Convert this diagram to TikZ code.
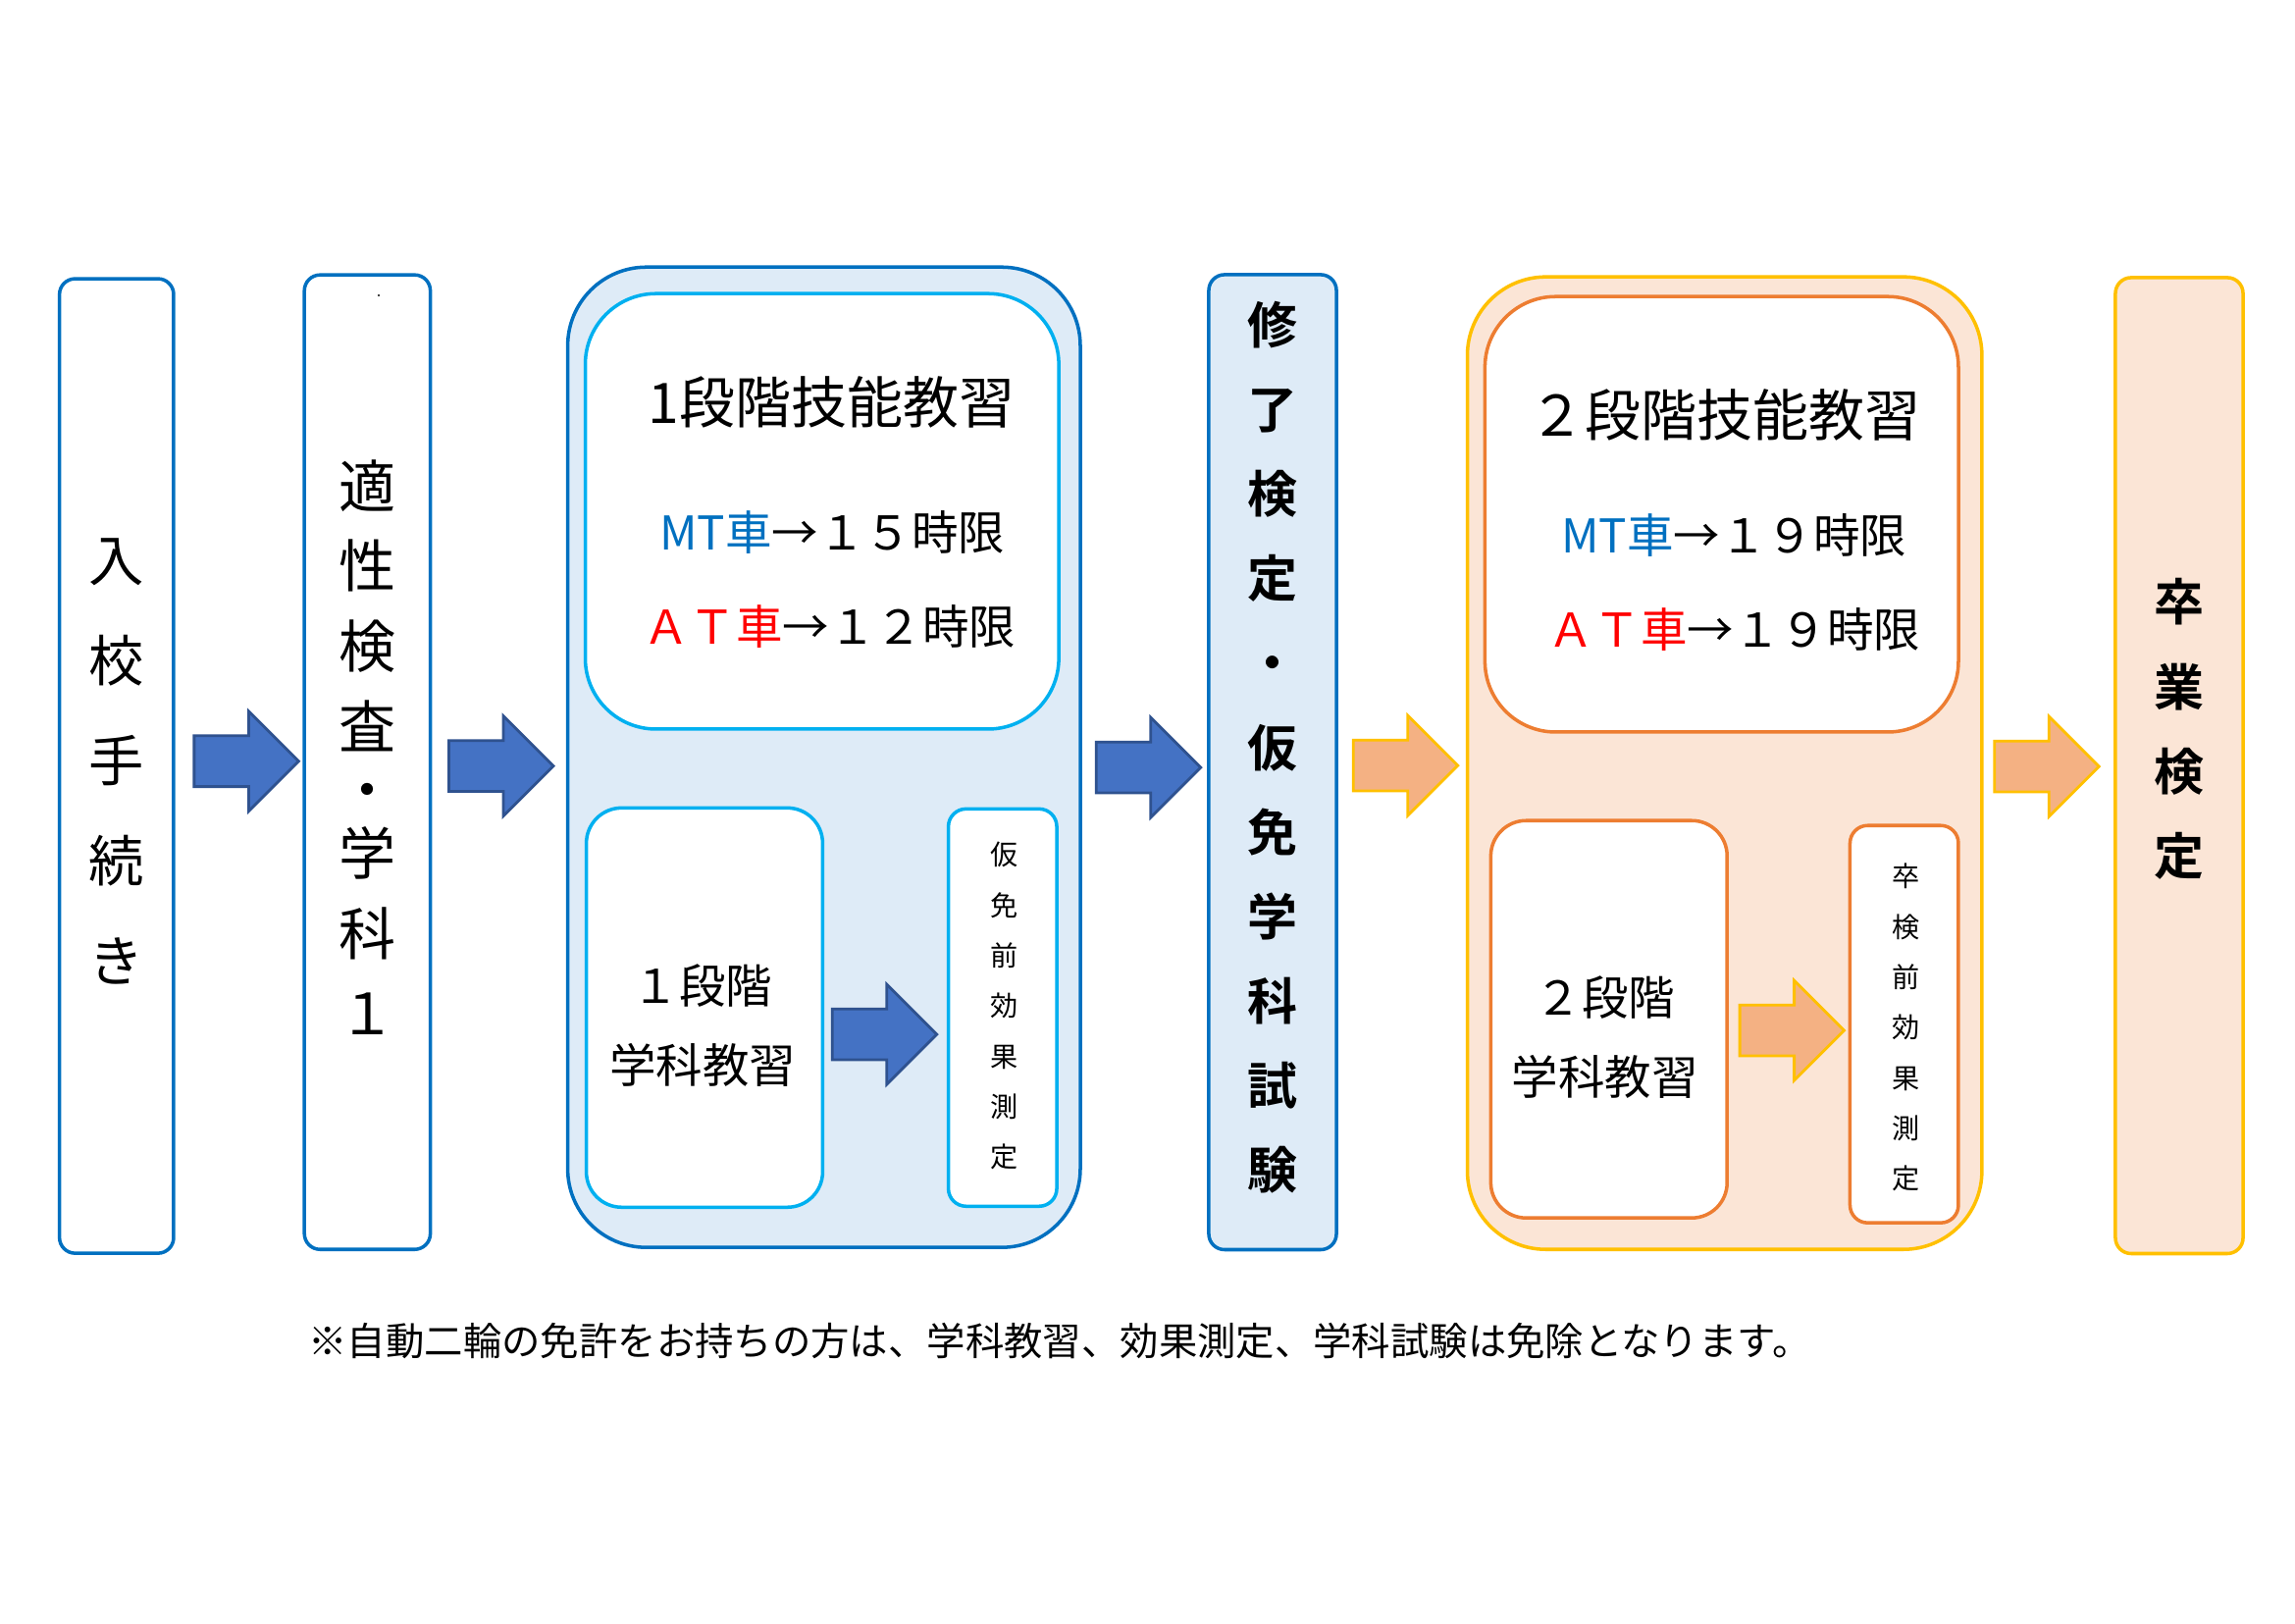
\documentclass[tikz,border=0pt]{standalone}
\usepackage{fontspec}
\setmainfont{Noto Sans CJK JP}[BoldFont={Noto Sans CJK JP Bold}]
\usepackage{tikz}
\usetikzlibrary{
  shapes.arrows
}
\usepackage{xcolor}
\definecolor{boxBlue}{rgb}{0,0.4392,0.7529}
\definecolor{paleBlue}{rgb}{0.8706,0.9216,0.9686}
\definecolor{cyanLine}{rgb}{0,0.6902,0.9412}
\definecolor{arrowBlue}{rgb}{0.2667,0.4471,0.7686}
\definecolor{arrowEdge}{rgb}{0.1843,0.3216,0.5608}
\definecolor{peach}{rgb}{0.9843,0.8980,0.8392}
\definecolor{goldLine}{rgb}{1,0.7529,0}
\definecolor{orangeLine}{rgb}{0.9294,0.4902,0.1922}
\definecolor{arrowOrange}{rgb}{0.9569,0.6941,0.5137}
\definecolor{atRed}{rgb}{1,0,0}
\tikzset{
  tallbox/.style={
    draw=boxBlue,
    line width=1pt,
    rounded corners=0.16cm,
    inner sep=0pt
  },
  stagebox/.style={
    line width=1pt,
    rounded corners=0.8cm
  },
  roomybox/.style={
    fill=white,
    line width=1pt,
    rounded corners=0.72cm
  },
  lessonbox/.style={
    fill=white,
    line width=1pt,
    rounded corners=0.36cm
  },
  testbox/.style={
    fill=white,
    line width=1pt,
    rounded corners=0.18cm,
    minimum width=1.104cm,
    minimum height=4.047cm
  },
  blockarrow/.style={
    single arrow,
    single arrow head extend=0.25cm,
    single arrow tip angle=90,
    inner xsep=0pt,
    inner ysep=0.245cm,
    minimum height=1.064cm,
    minimum width=0.99cm,
    line width=0.8pt,
    anchor=tail
  }
}

\begin{document}
\begin{tikzpicture}[
    x=0.01cm, y=-0.01cm,
    every node/.style={inner sep=0pt, outer sep=0pt},
    font=\fontsize{13.5}{23}\selectfont
  ]
  \useasboundingbox (0,0) rectangle (2339,1654);

  % frames
  \node[tallbox, minimum width=1.163cm, minimum height=9.925cm] (nyuko) at (118.8,780.6) {};
  \node[tallbox, minimum width=1.283cm, minimum height=9.925cm] (tekisei) at (374.4,776.7) {};
  \fill (386,301) circle (0.012cm);

  \node[stagebox, draw=boxBlue, fill=paleBlue, minimum width=5.221cm, minimum height=9.984cm] (stage1) at (839.8,771.7) {};
  \node[roomybox, draw=cyanLine, minimum width=4.823cm, minimum height=4.435cm] (tech1) at (837.8,521.1) {};
  \node[lessonbox, draw=cyanLine, minimum width=2.407cm, minimum height=4.067cm] (class1) at (718,1026.8) {};
  \node[testbox, draw=cyanLine] (test1) at (1021.8,1026.8) {};

  \node[tallbox, fill=paleBlue, minimum width=1.3cm, minimum height=9.93cm] (shuryo) at (1297,776.7) {};

  \node[stagebox, draw=goldLine, fill=peach, minimum width=5.241cm, minimum height=9.905cm] (stage2) at (1757.7,777.7) {};
  \node[roomybox, draw=orangeLine, minimum width=4.823cm, minimum height=4.435cm] (tech2) at (1754.7,524.1) {};
  \node[lessonbox, draw=orangeLine, minimum width=2.407cm, minimum height=4.047cm] (class2) at (1639.8,1038.7) {};
  \node[testbox, draw=orangeLine] (test2) at (1940.7,1043.7) {};

  \node[tallbox, draw=goldLine, fill=peach, minimum width=1.3cm, minimum height=9.94cm] (sotsugyo) at (2221,780.2) {};

  % arrows
  \foreach \n/\x/\y in {a1/197.9/775.7, a2/457.5/780.6, a3/848.3/1054.1, a4/1117.3/782.1}{
    \node[blockarrow, fill=arrowBlue, draw=arrowEdge] (\n) at (\x,\y) {};
  }
  \foreach \n/\x/\y in {a5/1379.3/780.1, a6/1773.1/1050.1, a7/2032.7/781.1}{
    \node[blockarrow, fill=arrowOrange, draw=goldLine] (\n) at (\x,\y) {};
  }

  % texts
  \node[align=center, font=\fontsize{16}{29}\selectfont] (nyukoText) at (118.8,775.7) {入\\校\\手\\続\\き};
  \node[align=center, font=\fontsize{16.5}{23.2}\selectfont] (tekiseiText) at (374.4,761.7)
    {適\\性\\検\\査\\[-4.8pt]・\\[-4.8pt]学\\科\\１};

  \node[font=\fontsize{16.2}{20}\selectfont] (tech1Title) at (847.3,409.7) {1段階技能教習};
  \node (tech1MT) at (848.3,542) {\textcolor{boxBlue}{MT車}→１５時限};
  \node (tech1AT) at (845.3,638.4) {\textcolor{atRed}{ＡＴ車}→１２時限};
  \node[align=center] (class1Text) at (716,1045.2) {１段階\\学科教習};
  \node[align=center, font=\fontsize{8}{14.6}\selectfont] (test1Text) at (1023.3,1025.3) {仮\\免\\前\\効\\果\\測\\定};

  \node[align=center, font=\bfseries\fontsize{14.5}{24.5}\selectfont] (shuryoText) at (1297,761.7)
    {修\\了\\検\\定\\・\\仮\\免\\学\\科\\試\\験};

  \node[font=\fontsize{16.2}{20}\selectfont] (tech2Title) at (1758.2,422.6) {２段階技能教習};
  \node (tech2MT) at (1767.1,545) {\textcolor{boxBlue}{MT車}→１９時限};
  \node (tech2AT) at (1767.1,641.4) {\textcolor{atRed}{ＡＴ車}→１９時限};
  \node[align=center] (class2Text) at (1635.9,1057.1) {２段階\\学科教習};
  \node[align=center, font=\fontsize{8}{14.6}\selectfont] (test2Text) at (1942.2,1047.1) {卒\\検\\前\\効\\果\\測\\定};

  \node[align=center, font=\bfseries\fontsize{14.5}{24.5}\selectfont] (sotsugyoText) at (2221,742.9) {卒\\業\\検\\定};

  \node[font=\fontsize{11.2}{14}\selectfont] (note) at (1080,1366.4)
    {※自動二輪の免許をお持ちの方は、学科教習、効果測定、学科試験は免除となります。};
\end{tikzpicture}
\end{document}
